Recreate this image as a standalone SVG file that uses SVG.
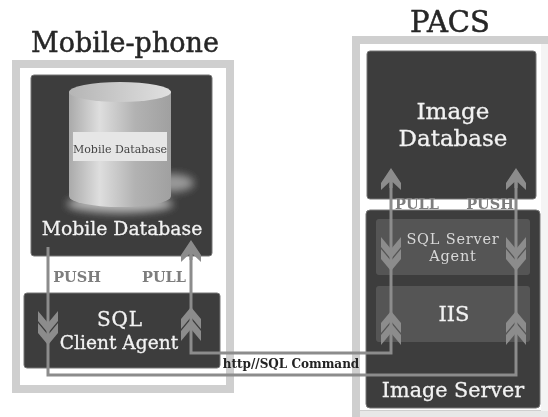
<svg xmlns="http://www.w3.org/2000/svg" width="548" height="417" viewBox="0 0 548 417">
<style>
text{font-family:"DejaVu Serif","Liberation Serif",serif;text-anchor:middle}
.frame{fill:none;stroke:#cfcfcf;stroke-width:8}
.dark{fill:#3c3c3c;stroke:#777;stroke-width:1}
.panel{fill:#555}
.w{fill:#f2f2f2;stroke:#f2f2f2;stroke-width:.3}
.head{fill:#262626;stroke:#262626;stroke-width:.5}
.lab{fill:#7d7d7d;font-weight:bold;font-size:14.500px}
.line{fill:none;stroke:#8c8c8c;stroke-width:3}
.chev{fill:#8c8c8c}
</style>
<defs>
<linearGradient id="cyl" x1="0" x2="1" y1="0" y2="0">
<stop offset="0" stop-color="#aaa"/><stop offset=".3" stop-color="#dedede"/><stop offset=".65" stop-color="#b2b2b2"/><stop offset="1" stop-color="#a0a0a0"/>
</linearGradient>
<linearGradient id="cyltop" x1="0" x2="1" y1="0" y2="0">
<stop offset="0" stop-color="#b5b5b5"/><stop offset="1" stop-color="#e0e0e0"/>
</linearGradient>
<filter id="soft" x="-5%" y="-5%" width="110%" height="110%"><feGaussianBlur stdDeviation="0.6"/></filter>
<filter id="glow" x="-40%" y="-40%" width="180%" height="180%"><feGaussianBlur stdDeviation="4"/></filter>
<path id="up" class="chev" d="M0-16L10-4V6L0-6L-10 6V-4Z"/>
<path id="down" class="chev" d="M0 16L10 4V-6L0 6L-10-6V4Z"/>
<path id="head" class="chev" d="M0-10L10 5V12L1.500 4V10H-1.500V4L-10 12V5Z"/>
</defs>
<rect width="548" height="417" fill="#fff"/>
<g filter="url(#soft)">
<g id="mobile-phone">
<rect class="frame" x="16" y="64" width="214" height="325"/>
<text class="head" x="125" y="52" font-size="27">Mobile-phone</text>
</g>
<g id="pacs">
<rect class="frame" x="356" y="40" width="200" height="374"/>
<rect x="541" y="44" width="7" height="373" fill="#f4f4f4"/>
<rect x="360" y="411" width="188" height="6" fill="#e8e8e8"/>
<text class="head" x="450" y="32" font-size="29">PACS</text>
</g>
<g id="mobile-database">
<rect class="dark" x="31" y="75" width="181" height="181" rx="3"/>
<ellipse cx="172" cy="183" rx="22" ry="9" fill="#9a9a9a" filter="url(#glow)"/>
<ellipse cx="120" cy="204" rx="53" ry="9" fill="#b5b5b5" filter="url(#glow)"/>
<path d="M69 92V196A51 11 0 0 0 171 196V92Z" fill="url(#cyl)"/>
<ellipse cx="120" cy="92" rx="51" ry="10" fill="url(#cyltop)"/>
<rect x="73" y="132" width="94" height="29" fill="#e6e6e6"/>
<text x="120" y="153" font-size="11" fill="#444">Mobile Database</text>
<text class="w" x="122" y="235" font-size="18.800">Mobile Database</text>
</g>
<g id="sql-client-agent">
<rect class="dark" x="24" y="293" width="196" height="75" rx="3"/>
<text class="w" x="120" y="326" font-size="20" letter-spacing=".8">SQL</text>
<text class="w" x="119" y="349" font-size="18.600">Client Agent</text>
</g>
<g id="image-database">
<rect class="dark" x="367" y="51" width="169" height="148" rx="3"/>
<text class="w" x="453" y="119" font-size="23">Image</text>
<text class="w" x="453" y="146" font-size="23">Database</text>
</g>
<g id="image-server">
<rect class="dark" x="366" y="210" width="174" height="198" rx="4"/>
<text class="w" x="453" y="397" font-size="20.700">Image Server</text>
</g>
<g id="sql-server-agent">
<rect class="panel" x="376" y="219" width="154" height="56" rx="3"/>
<text x="453" y="244" font-size="14.500" letter-spacing=".8" fill="#d8d8d8">SQL Server</text>
<text x="453" y="261" font-size="14.500" letter-spacing=".8" fill="#d8d8d8">Agent</text>
</g>
<g id="iis">
<rect class="panel" x="376" y="286" width="154" height="56" rx="3"/>
<text class="w" x="454" y="321" font-size="21">IIS</text>
</g>
<g id="connectors">
<path class="line" d="M48 247V375H516V178"/>
<path class="line" d="M191 250V353H391V178"/>
<use href="#down" x="48" y="317"/><use href="#down" x="48" y="329"/>
<use href="#up" x="191" y="323"/><use href="#up" x="191" y="335"/>
<use href="#head" x="191" y="250"/>
<use href="#head" x="391" y="178"/><use href="#head" x="516" y="178"/>
<use href="#down" x="391" y="243"/><use href="#down" x="391" y="255"/>
<use href="#down" x="516" y="243"/><use href="#down" x="516" y="255"/>
<use href="#up" x="391" y="327"/><use href="#up" x="391" y="339"/>
<use href="#up" x="516" y="327"/><use href="#up" x="516" y="339"/>
</g>
<g id="labels">
<text class="lab" x="77" y="282">PUSH</text>
<text class="lab" x="164" y="282">PULL</text>
<text class="lab" x="417" y="209">PULL</text>
<text class="lab" x="490" y="209">PUSH</text>
<text x="291" y="368" font-size="12" fill="#222" font-weight="600">http//SQL Command</text>
</g>
</g>
</svg>
